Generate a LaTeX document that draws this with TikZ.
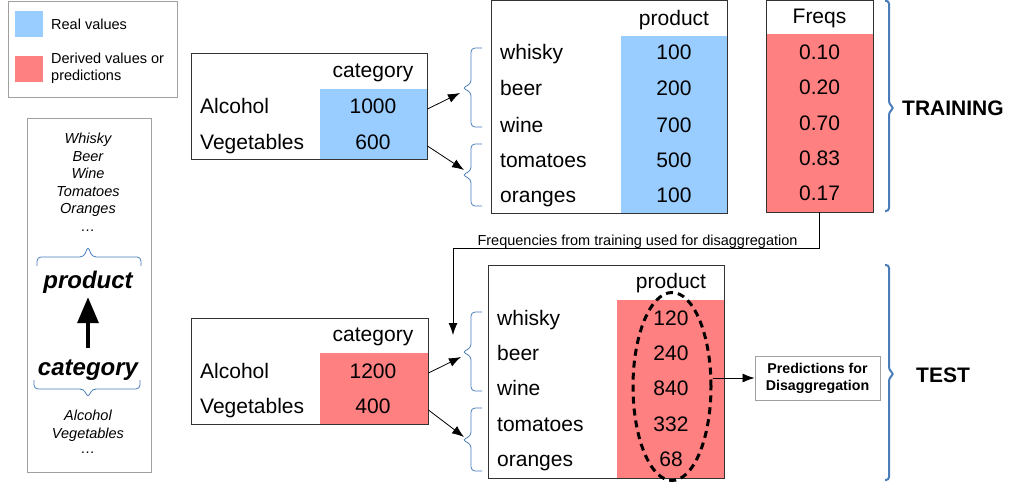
\documentclass[tikz,border=0pt]{standalone}
\usepackage{fontspec}
\setmainfont{Liberation Sans}
\usetikzlibrary{arrows.meta,shapes.geometric,calc}
\definecolor{realblue}{HTML}{99CCFF}
\definecolor{predred}{HTML}{FF8080}
\definecolor{bracecol}{HTML}{4A7EBB}
\definecolor{framegray}{HTML}{A0A0A0}
\definecolor{tblline}{HTML}{333333}
\begin{document}
\begin{tikzpicture}[x=1pt,y=-1pt,
  big/.style={font=\fontsize{21}{25}\selectfont, inner sep=0pt, text height=15pt, text depth=0pt},
  rowlbl/.style={big, anchor=west},
  tbl/.style={draw=tblline, line width=0.9pt, inner sep=0pt},
  framebox/.style={draw=framegray, line width=0.9pt, inner sep=0pt},
  legtxt/.style={font=\fontsize{14.5}{17}\selectfont, inner sep=0pt},
  itxt/.style={font=\fontsize{14.5}{17}\selectfont\itshape, inner sep=0pt, text height=10.4pt, text depth=0pt},
  bitxt/.style={font=\fontsize{24}{28}\selectfont\bfseries\itshape, inner sep=0pt, text height=17pt, text depth=0pt},
  phase/.style={font=\fontsize{21}{25}\selectfont\bfseries, inner sep=0pt, text height=15pt, text depth=0pt},
  thinbrace/.style={draw=bracecol, line width=0.8pt, rounded corners=4pt},
  thickbrace/.style={draw=bracecol, line width=2pt, rounded corners=3pt},
  arr/.style={draw=black, line width=0.8pt, -{Latex[length=12pt,width=9pt]}},
  bigarr/.style={draw=black, line width=3.5pt, -{Triangle[length=26pt,width=21pt]}},
  swatch/.style={inner sep=0pt, minimum width=28pt, minimum height=26pt}
]
\useasboundingbox (0,0) rectangle (1017,482);

% ---------- legend ----------
\node[framebox, minimum width=169pt, minimum height=96pt, anchor=north west] (legend) at (8,0.5) {};
\node[swatch, fill=realblue] (swReal) at (29,24) {};
\node[legtxt, anchor=west, text height=10.4pt, text depth=0pt] (txReal) at (51,24) {Real values};
\node[swatch, fill=predred] (swPred) at (29,69) {};
\node[legtxt, anchor=west, align=left] (txPred) at (51,68) {Derived values or\\predictions};

% ---------- left explanatory panel ----------
\node[framebox, minimum width=124pt, minimum height=354pt, anchor=north west] (panel) at (27,118) {};
\node[itxt] (pWhisky) at (88,138) {Whisky};
\node[itxt] (pBeer) at (88,156) {Beer};
\node[itxt] (pWine) at (88,173) {Wine};
\node[itxt] (pTom) at (88,191) {Tomatoes};
\node[itxt] (pOr) at (88,208) {Oranges};
\node[itxt] (pDots1) at (88,226) {…};
\draw[thinbrace] (37,266) -- (37,257) -- (84,257) -- (88,246) -- (92,257) -- (141,257) -- (141,266);
\node[bitxt] (lprod) at (88,280) {product};
\node[bitxt] (lcat) at (88,367) {category};
\draw[bigarr, shorten <=10pt, shorten >=8.5pt] (lcat.north) -- (lprod.south);
\draw[thinbrace] (34,380) -- (34,389) -- (84,389) -- (88,398) -- (92,389) -- (140,389) -- (140,380);
\node[itxt] (pAlc) at (88,415) {Alcohol};
\node[itxt] (pVeg) at (88,433) {Vegetables};
\node[itxt] (pDots2) at (88,448) {…};

% ---------- TRAINING ----------
\fill[realblue] (320,89) rectangle (427,159);
\node[tbl, minimum width=236pt, minimum height=106pt] (catTop) at (309,106) {};
\node[big] (catTopH) at (373,70) {category};
\node[rowlbl] (catTopA) at (200,105.5) {Alcohol};
\node[rowlbl] (catTopV) at (200,141.5) {Vegetables};
\node[big] (catTopA1) at (373,105.5) {1000};
\node[big] (catTopV1) at (373,141.5) {600};

\fill[realblue] (621,36) rectangle (727,213);
\node[tbl, minimum width=236pt, minimum height=212.5pt] (prodTop) at (609,106.75) {};
\node[big] (prodTopH) at (674,17.5) {product};
\node[rowlbl] (ptW) at (500,52.3) {whisky};
\node[rowlbl] (ptB) at (500,88.3) {beer};
\node[rowlbl] (ptWi) at (500,124.5) {wine};
\node[rowlbl] (ptT) at (500,159.5) {tomatoes};
\node[rowlbl] (ptO) at (500,195) {oranges};
\node[big] (ptW1) at (674,52.3) {100};
\node[big] (ptB1) at (674,88.3) {200};
\node[big] (ptWi1) at (674,124.5) {700};
\node[big] (ptT1) at (674,159.5) {500};
\node[big] (ptO1) at (674,195) {100};

\fill[predred] (766,34) rectangle (873,212);
\node[tbl, minimum width=107pt, minimum height=211.5pt] (freqs) at (819.5,106.25) {};
\node[big] (freqsH) at (819.5,15.5) {Freqs};
\node[big] (f1) at (819.5,51.7) {0.10};
\node[big] (f2) at (819.5,87.3) {0.20};
\node[big] (f3) at (819.5,122.5) {0.70};
\node[big] (f4) at (819.5,158.3) {0.83};
\node[big] (f5) at (819.5,193) {0.17};

\draw[thinbrace] (482,48) -- (471,48) -- (471,84) -- (462,88) -- (471,92) -- (471,127) -- (482,127);
\draw[thinbrace] (482,144) -- (471,144) -- (471,171) -- (462,175) -- (471,179) -- (471,206) -- (482,206);
\coordinate (bt1) at (460,93);
\coordinate (bt2) at (464,170);
\draw[arr] ([yshift=-3pt]catTop.east) -- (bt1);
\draw[arr] ([yshift=-40pt]catTop.east) -- (bt2);

\draw[thickbrace] (885,0.8) -- (889,0.8) -- (889,104) -- (894,108) -- (889,112) -- (889,211) -- (885,211);
\node[phase, anchor=west] (training) at (902,108) {TRAINING};

% ---------- link ----------
\node[legtxt, text height=10.4pt, text depth=0pt] (freqtxt) at (637.5,240) {Frequencies from training used for disaggregation};
\coordinate (fin) at (453,335);
\draw[arr] (freqs.south) -- ++(0,36) -| (fin);

% ---------- TEST ----------
\fill[predred] (320,353) rectangle (428,424);
\node[tbl, minimum width=237pt, minimum height=106pt] (catTest) at (309.5,371) {};
\node[big] (catTestH) at (373,334) {category};
\node[rowlbl] (ctA) at (200,370.7) {Alcohol};
\node[rowlbl] (ctV) at (200,406) {Vegetables};
\node[big] (ctA1) at (373,370.7) {1200};
\node[big] (ctV1) at (373,406) {400};

\fill[predred] (617,300) rectangle (724,478);
\node[tbl, minimum width=236pt, minimum height=213pt] (prodTest) at (606,371.5) {};
\node[big] (prodTestH) at (671,280.5) {product};
\node[rowlbl] (qW) at (497,318.3) {whisky};
\node[rowlbl] (qB) at (497,352.7) {beer};
\node[rowlbl] (qWi) at (497,388.3) {wine};
\node[rowlbl] (qT) at (497,424) {tomatoes};
\node[rowlbl] (qO) at (497,459.3) {oranges};
\node[big] (qW1) at (671,318.3) {120};
\node[big] (qB1) at (671,352.7) {240};
\node[big] (qWi1) at (671,388.3) {840};
\node[big] (qT1) at (671,424) {332};
\node[big] (qO1) at (671,459.3) {68};

\node[draw=black, ellipse, line width=3pt, dash pattern=on 7pt off 5pt, minimum width=78pt, minimum height=188pt, inner sep=0pt] (ell) at (672,386.5) {};

\draw[thinbrace] (482,312) -- (471,312) -- (471,348) -- (462,352) -- (471,356) -- (471,391) -- (482,391);
\draw[thinbrace] (482,408) -- (471,408) -- (471,436) -- (462,440) -- (471,444) -- (471,471) -- (482,471);
\coordinate (bq1) at (461,357);
\coordinate (bq2) at (464,437);
\draw[arr] ([yshift=-2pt]catTest.east) -- (bq1);
\draw[arr] ([yshift=-39pt]catTest.east) -- (bq2);

\node[draw=framegray, line width=0.9pt, minimum width=125pt, minimum height=44pt, inner sep=0pt, align=center, font=\fontsize{14.2}{17}\selectfont\bfseries] (pred) at (817.5,378) {Predictions for\\Disaggregation};
\draw[arr] (pred.west -| ell.east) -- (pred.west);

\draw[thickbrace] (885,265) -- (889,265) -- (889,370) -- (894,374) -- (889,378) -- (889,480) -- (885,480);
\node[phase] (test) at (943,375) {TEST};
\end{tikzpicture}
\end{document}
